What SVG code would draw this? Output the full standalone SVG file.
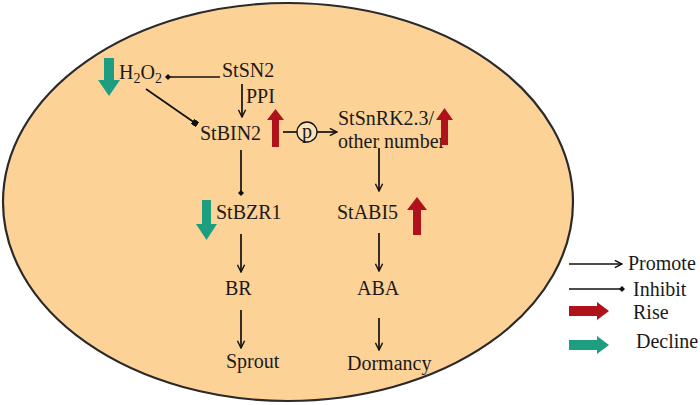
<svg xmlns="http://www.w3.org/2000/svg" width="700" height="405" viewBox="0 0 700 405">
<defs>
<style>
text{font-family:"Liberation Serif","Times New Roman",serif;font-size:20px;fill:#1a1a1a}
.c{stroke:#111;stroke-width:1.7;fill:none}
.red{fill:#B0121C}
.grn{fill:#1E9E80}
</style>
<marker id="arr" viewBox="0 0 10 10" refX="9" refY="5" markerWidth="9" markerHeight="9" markerUnits="userSpaceOnUse" orient="auto">
<path d="M1,1 L9,5 L1,9" fill="none" stroke="#111" stroke-width="1.6"/>
</marker>
<marker id="dot" viewBox="0 0 10 10" refX="5" refY="5" markerWidth="6" markerHeight="6" markerUnits="userSpaceOnUse" orient="auto">
<path d="M5,0 L10,5 L5,10 L0,5 Z" fill="#111"/>
</marker>
<marker id="sq" viewBox="0 0 10 10" refX="5" refY="5" markerWidth="6" markerHeight="6" markerUnits="userSpaceOnUse" orient="auto">
<rect x="0" y="0" width="10" height="10" fill="#111"/>
</marker>
</defs>
<ellipse id="cell" cx="288" cy="202" rx="285" ry="199" fill="#FDD297" stroke="#2a2a2a" stroke-width="2.2"/>
<g id="connectors">
<line class="c" x1="220" y1="77" x2="168" y2="77" marker-end="url(#dot)"/>
<line class="c" x1="242" y1="84" x2="242" y2="117" marker-end="url(#arr)"/>
<line class="c" x1="146" y1="89" x2="195" y2="123" marker-end="url(#sq)"/>
<line class="c" x1="283" y1="132" x2="297" y2="132"/>
<line class="c" x1="317" y1="132" x2="337" y2="132" marker-end="url(#arr)"/>
<line class="c" x1="241" y1="150" x2="241" y2="193" marker-end="url(#dot)"/>
<line class="c" x1="379" y1="148" x2="379" y2="191" marker-end="url(#arr)"/>
<line class="c" x1="241" y1="234" x2="241" y2="272" marker-end="url(#arr)"/>
<line class="c" x1="241" y1="310" x2="241" y2="348" marker-end="url(#arr)"/>
<line class="c" x1="379" y1="233" x2="379" y2="271" marker-end="url(#arr)"/>
<line class="c" x1="379" y1="318" x2="379" y2="350" marker-end="url(#arr)"/>
</g>
<g id="h2o2">
<text x="119" y="79">H<tspan font-size="14" dy="4">2</tspan><tspan dy="-4">O</tspan><tspan font-size="14" dy="4">2</tspan></text>
<polygon class="grn" points="104,58 114,58 114,80 120,80 109,96 98,80 104,80"/>
</g>
<g id="stsn2"><text x="222" y="77">StSN2</text></g>
<g id="ppi"><text x="246" y="103">PPI</text></g>
<g id="stbin2">
<text x="200" y="140">StBIN2</text>
<polygon class="red" points="272,147 279,147 279,120 284,120 275.5,109 267,120 272,120"/>
</g>
<g id="p">
<circle cx="307" cy="132" r="10" fill="#FDE3B8" stroke="#111" stroke-width="1.3"/>
<text x="307" y="138" text-anchor="middle" font-size="19">p</text>
</g>
<g id="stsnrk">
<text x="338" y="125" font-size="19">StSnRK2.3/</text>
<text x="338" y="148" font-size="19">other number</text>
<polygon class="red" points="441,145 448,145 448,120 453,120 444.5,108 436,120 441,120"/>
</g>
<g id="stbzr1">
<text x="216" y="219">StBZR1</text>
<polygon class="grn" points="202,200 211,200 211,224 217,224 206.5,240 196,224 202,224"/>
</g>
<g id="stabi5">
<text x="337" y="219">StABI5</text>
<polygon class="red" points="413,235 421,235 421,210 427,210 417,197 407,210 413,210"/>
</g>
<g id="br"><text x="225" y="295">BR</text></g>
<g id="aba"><text x="357" y="295">ABA</text></g>
<g id="sprout"><text x="226" y="368">Sprout</text></g>
<g id="dormancy"><text x="347" y="370">Dormancy</text></g>
<g id="legend">
<line class="c" x1="569" y1="264" x2="622" y2="264" marker-end="url(#arr)"/>
<text x="628" y="270">Promote</text>
<line class="c" x1="569" y1="289" x2="622" y2="289" marker-end="url(#dot)"/>
<text x="633" y="296">Inhibit</text>
<polygon class="red" points="569,306 597,306 597,302 609,311 597,320 597,316 569,316"/>
<text x="633" y="319">Rise</text>
<polygon class="grn" points="569,340 597,340 597,336 609,345 597,354 597,350 569,350"/>
<text x="636" y="348">Decline</text>
</g>
</svg>
